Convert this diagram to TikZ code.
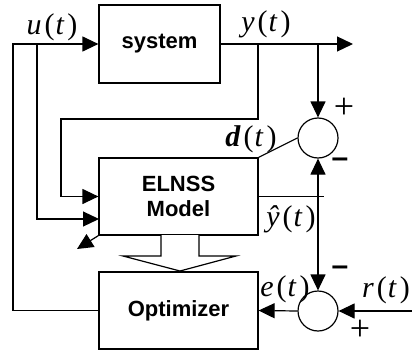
\documentclass[tikz,border=0pt]{standalone}
\usepackage{fontspec}
\setmainfont{Liberation Serif}
\setsansfont{Liberation Sans}
\usetikzlibrary{arrows.meta,positioning}

% signal name with its time argument, spread out a little
\newcommand{\sig}[1]{#1\kern3pt(\kern1pt\textit{t}\kern3pt)}

\tikzset{
  block/.style={draw, rectangle, line width=1.2pt,
    font=\sffamily\bfseries\fontsize{22}{25}\selectfont, align=center},
  sumpt/.style={draw, circle, line width=1.2pt, minimum size=40pt, inner sep=0pt},
  siglbl/.style={font=\fontsize{30}{32}\selectfont, inner sep=0pt},
  signlbl/.style={font=\fontsize{36}{38}\selectfont, inner sep=0pt},
  minuslbl/.style={font=\sffamily\bfseries\fontsize{30}{32}\selectfont, inner sep=0pt}
}

\begin{document}
\begin{tikzpicture}[x=1pt, y=-1pt, line width=1.2pt,
    >={Triangle[length=16pt,width=15pt]}]
  \useasboundingbox (0,0) rectangle (412,353);

  \node (system)
        [block, minimum width=121pt, minimum height=78pt]
        at (159.5,44) {system};
  \node (elnss)
        [block, minimum width=159pt, minimum height=77pt]
        at (178.5,196.5) {ELNSS\\Model};
  \node (optimizer)
        [block, minimum width=159pt, minimum height=77pt]
        at (178.5,310.5) {Optimizer};
  \node (sumD) [sumpt] at (318,138) {};
  \node (sumE) [sumpt] at (318,311) {};

  \coordinate (uLeft) at (13,44);
  \coordinate (uTap) at (37,44);
  \coordinate (uIn) at (99,219);
  \coordinate (yTap) at (258,44);
  \coordinate (yTapD) at (318,44);
  \coordinate (yOut) at (353,44);
  \coordinate (yBack) at (61,119);
  \coordinate (adapt) at (77,249);
  \coordinate (rIn) at (412,311);

  % control signal loop
  \draw[->] (optimizer.west) -| (uLeft) -- (system.west);
  \draw[->] (uTap) |- (uIn);
  % plant output
  \draw[->] (system.east) -- (yOut);
  \draw[->] (yTap) |- (yBack) |- (elnss.west);
  \draw[->] (yTapD) -- (sumD.north);
  % model output and error
  \draw (elnss.north east) -- (sumD.west);
  \draw (elnss.east) -- ++(65,0);
  \draw[<->] (sumD.south) -- (sumE.north);
  \draw[->] (rIn) -- (sumE.east);
  \draw[->] (sumE.west) -- (optimizer.east);
  \draw[->] (elnss.south west) -- (adapt);

  % hollow arrow from model into optimizer
  \draw[fill=white] (161,235) -- (161,256) -- (123,256) -- (180,271)
        -- (236,256) -- (199,256) -- (199,235);

  \node (uLbl) [siglbl] at (52,27) {\sig{\textit{u}}};
  \node (yLbl) [siglbl] at (266,24) {\sig{\textit{y}}};
  \node (dLbl) [siglbl] at (251,139) {\sig{\textbf{\textit{d}}}};
  \node (yhatLbl) [siglbl] at (291,219) {\sig{\textit{\^{y}}}};
  \node (eLbl) [siglbl] at (285,289) {\sig{\textit{e}}};
  \node (rLbl) [siglbl] at (386,290) {\sig{\textit{r}}};

  \node (plusD) [signlbl] at (344,108) {+};
  \node (minusD) [minuslbl] at (340,163) {\textendash};
  \node (minusE) [minuslbl] at (340,271) {\textendash};
  \node (plusE) [signlbl] at (360,330) {+};
\end{tikzpicture}
\end{document}
